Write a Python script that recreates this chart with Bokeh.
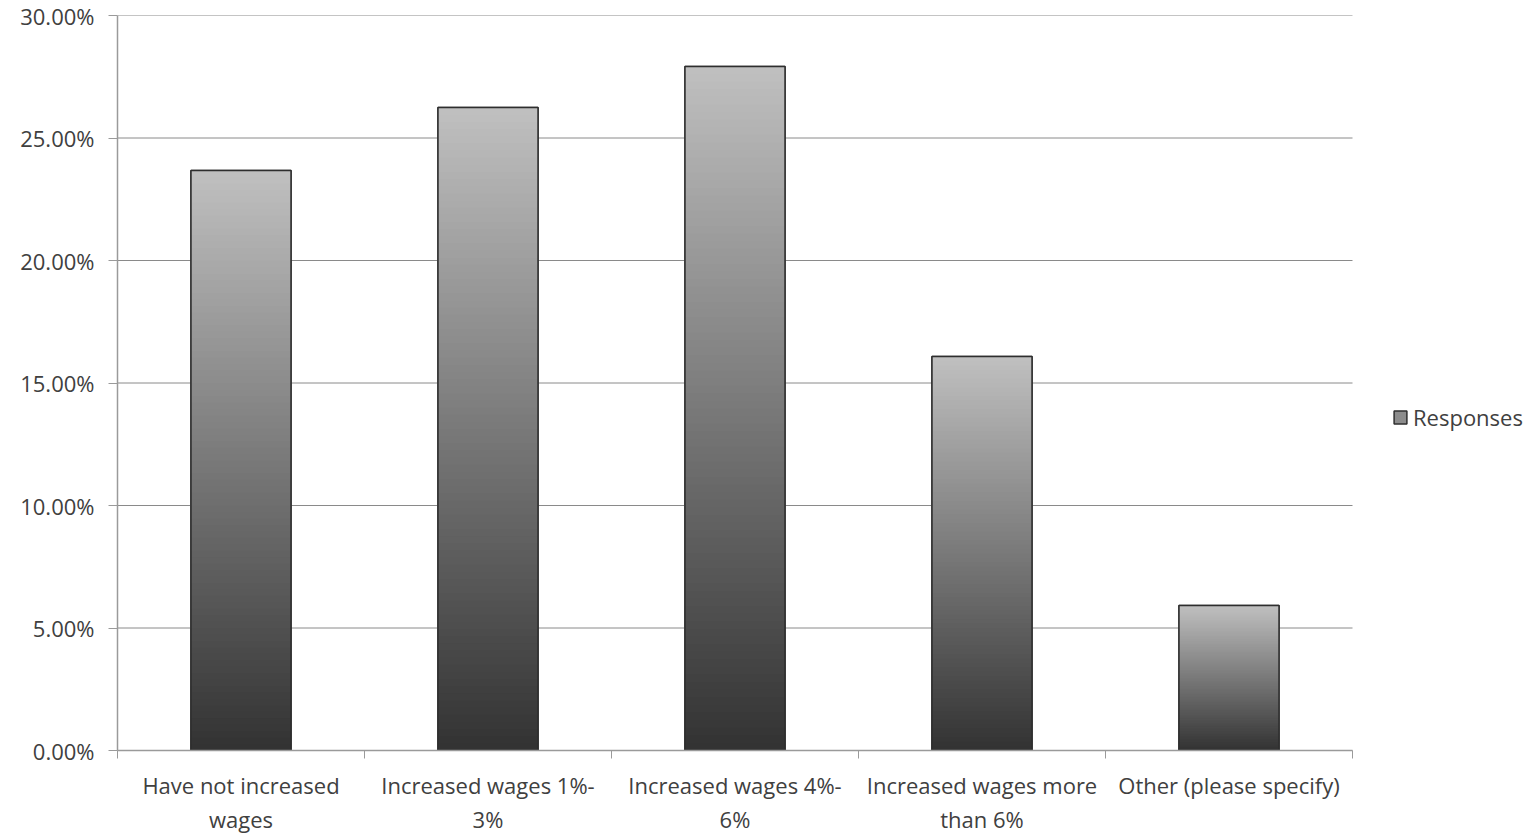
from bokeh.plotting import figure
from bokeh.models import FixedTicker, NumeralTickFormatter, Legend, LegendItem, Range1d
from bokeh.embed import file_html
from bokeh.resources import INLINE

categories = ["Have not increased\nwages", "Increased wages 1%-\n3%", "Increased wages 4%-\n6%",
              "Increased wages more\nthan 6%", "Other (please specify)"]
values = [0.2367, 0.2624, 0.2792, 0.1608, 0.0592]
y_ticks = [0.0, 0.05, 0.10, 0.15, 0.20, 0.25, 0.30]
series_name = "Responses"

FONT = "Open Sans"
TXT = "#404040"
N = 90
BAR_W = 0.405
TOP_C = (192, 192, 192)
BOT_C = (50, 50, 50)

NCAT = len(categories)
PLOT_W = 1235          # width of the bar area in px
FRAME_W = 1415         # frame extended to host the legend at the right
x_end = NCAT * FRAME_W / PLOT_W

p = figure(width=117 + FRAME_W, height=834, output_backend="svg", toolbar_location=None,
           x_range=Range1d(0, x_end), y_range=Range1d(0, 0.30),
           frame_width=FRAME_W, frame_height=735,
           min_border_left=117, min_border_top=15, min_border_bottom=84, min_border_right=0)
p.outline_line_color = None
p.background_fill_color = "white"
p.border_fill_color = "white"

# horizontal gridlines, limited to the category area
p.xgrid.grid_line_color = None
p.ygrid.grid_line_color = None
p.segment(x0=[0] * len(y_ticks), x1=[NCAT] * len(y_ticks), y0=y_ticks, y1=y_ticks,
          line_color="#8a8a8a", line_width=1)

xc = [i + 0.5 for i in range(NCAT)]
# base bars (also the legend's representative glyph)
base = p.vbar(x=xc, width=BAR_W, top=values, bottom=0, fill_color="#8c8c8c",
              line_color="#2e2e2e", line_width=1.5)

# gradient fill: overlapping quads from the base, tallest (lightest) drawn first
lefts, rights, bottoms, tops, colors = [], [], [], [], []
for i, v in enumerate(values):
    cx = xc[i]
    for k in range(N):
        frac = (N - k) / N
        t = (N - k - 0.5) / N
        c = tuple(int(round(BOT_C[j] + (TOP_C[j] - BOT_C[j]) * t)) for j in range(3))
        lefts.append(cx - BAR_W / 2)
        rights.append(cx + BAR_W / 2)
        bottoms.append(0)
        tops.append(v * frac)
        colors.append("#%02x%02x%02x" % c)
p.quad(left=lefts, right=rights, bottom=bottoms, top=tops, fill_color=colors, line_color=None)
p.vbar(x=xc, width=BAR_W, top=values, bottom=0, fill_color=None, line_color="#2e2e2e", line_width=1.5)

xa = p.xaxis[0]
xa.bounds = (0, NCAT)
xa.ticker = FixedTicker(ticks=xc, minor_ticks=list(range(NCAT + 1)))
xa.major_label_overrides = {c: lab for c, lab in zip(xc, categories)}
xa.major_tick_line_color = None
xa.minor_tick_line_color = "#9a9a9a"
xa.minor_tick_out = 8
xa.minor_tick_in = 0
xa.axis_line_color = "#9a9a9a"
xa.axis_line_width = 1.5
xa.major_label_text_font = FONT
xa.major_label_text_font_size = "22px"
xa.major_label_text_color = TXT
xa.major_label_text_line_height = 1.15
xa.major_label_standoff = 11

ya = p.yaxis[0]
ya.ticker = FixedTicker(ticks=y_ticks)
ya.formatter = NumeralTickFormatter(format="0.00%")
ya.minor_tick_line_color = None
ya.major_tick_line_color = "#9a9a9a"
ya.major_tick_out = 9
ya.major_tick_in = 0
ya.axis_line_color = "#9a9a9a"
ya.axis_line_width = 1.5
ya.major_label_text_font = FONT
ya.major_label_text_font_size = "22px"
ya.major_label_text_color = TXT
ya.major_label_standoff = 14

legend = Legend(items=[LegendItem(label=series_name, renderers=[base], index=0)],
                location=(1275, 318), border_line_color=None, background_fill_alpha=0,
                glyph_width=16, glyph_height=16, label_text_font=FONT,
                label_text_font_size="22px", label_text_color=TXT, margin=0, padding=0,
                label_standoff=5, spacing=0)
p.add_layout(legend, "center")

open("out.html", "w").write(file_html(p, INLINE))
